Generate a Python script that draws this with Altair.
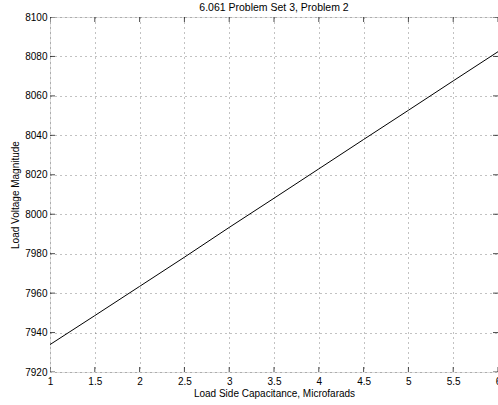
import altair as alt
import pandas as pd

cap = [1, 1.5, 2, 2.5, 3, 3.5, 4, 4.5, 5, 5.5, 6]
volt = [7933.9, 7948.6, 7963.4, 7978.2, 7993.3, 8008.1, 8023.0, 8037.9, 8052.7, 8067.6, 8082.4]
x_ticks = [1, 1.5, 2, 2.5, 3, 3.5, 4, 4.5, 5, 5.5, 6]
y_ticks = [7920, 7940, 7960, 7980, 8000, 8020, 8040, 8060, 8080, 8100]

df = pd.DataFrame({"x": cap, "y": volt})
FONT = "Liberation Sans"

xs = alt.Scale(domain=[1, 6], nice=False, zero=False)
ys = alt.Scale(domain=[7920, 8100], nice=False, zero=False)

grid_style = dict(grid=True, gridColor="#666", gridDash=[1, 4], gridWidth=0.8,
                  ticks=False, domain=False, labelFont=FONT, labelFontSize=10,
                  labelColor="#000", titleFont=FONT, titleFontSize=10,
                  titleColor="#000", titleFontWeight="normal",
                  labelOverlap=False, labelFlush=False)

x_axis = alt.Axis(values=x_ticks, format="~g", labelPadding=4, titlePadding=2, **grid_style)
y_axis = alt.Axis(values=y_ticks, format="d", labelPadding=3, titlePadding=4, **grid_style)
x_title = "Load Side Capacitance, Microfarads"
y_title = "Load Voltage Magnitude"

line = alt.Chart(df).mark_line(color="black", strokeWidth=1, clip=True).encode(
    x=alt.X("x:Q", scale=xs, title=x_title, axis=x_axis),
    y=alt.Y("y:Q", scale=ys, title=y_title, axis=y_axis),
)

xt = pd.DataFrame({"x": x_ticks})
yt = pd.DataFrame({"y": y_ticks})

tick_kw = dict(color="black", thickness=1, size=10, clip=True)
bottom = alt.Chart(xt).mark_tick(orient="vertical", **tick_kw).encode(
    x=alt.X("x:Q", scale=xs, title=x_title, axis=x_axis),
    y=alt.YDatum(7920, title=y_title, axis=y_axis))
top = alt.Chart(xt).mark_tick(orient="vertical", **tick_kw).encode(
    x=alt.X("x:Q", scale=xs, title=x_title, axis=x_axis),
    y=alt.YDatum(8100, title=y_title, axis=y_axis))
left = alt.Chart(yt).mark_tick(orient="horizontal", **tick_kw).encode(
    y=alt.Y("y:Q", scale=ys, title=y_title, axis=y_axis),
    x=alt.XDatum(1, title=x_title, axis=x_axis))
right = alt.Chart(yt).mark_tick(orient="horizontal", **tick_kw).encode(
    y=alt.Y("y:Q", scale=ys, title=y_title, axis=y_axis),
    x=alt.XDatum(6, title=x_title, axis=x_axis))

chart = alt.layer(line, bottom, top, left, right).properties(
    width=448, height=355,
    title=alt.TitleParams("6.061 Problem Set 3, Problem 2", font=FONT, fontSize=10.5,
                          fontWeight="normal", color="#000", anchor="middle",
                          offset=4, dy=5),
    autosize=alt.AutoSizeParams(type="none"),
    padding={"left": 50, "top": 17, "right": 0, "bottom": 33},
).configure_view(stroke="black", strokeWidth=1.2).configure(background="white")

chart.save("out.html", embed_options={"renderer": "svg", "actions": False})
